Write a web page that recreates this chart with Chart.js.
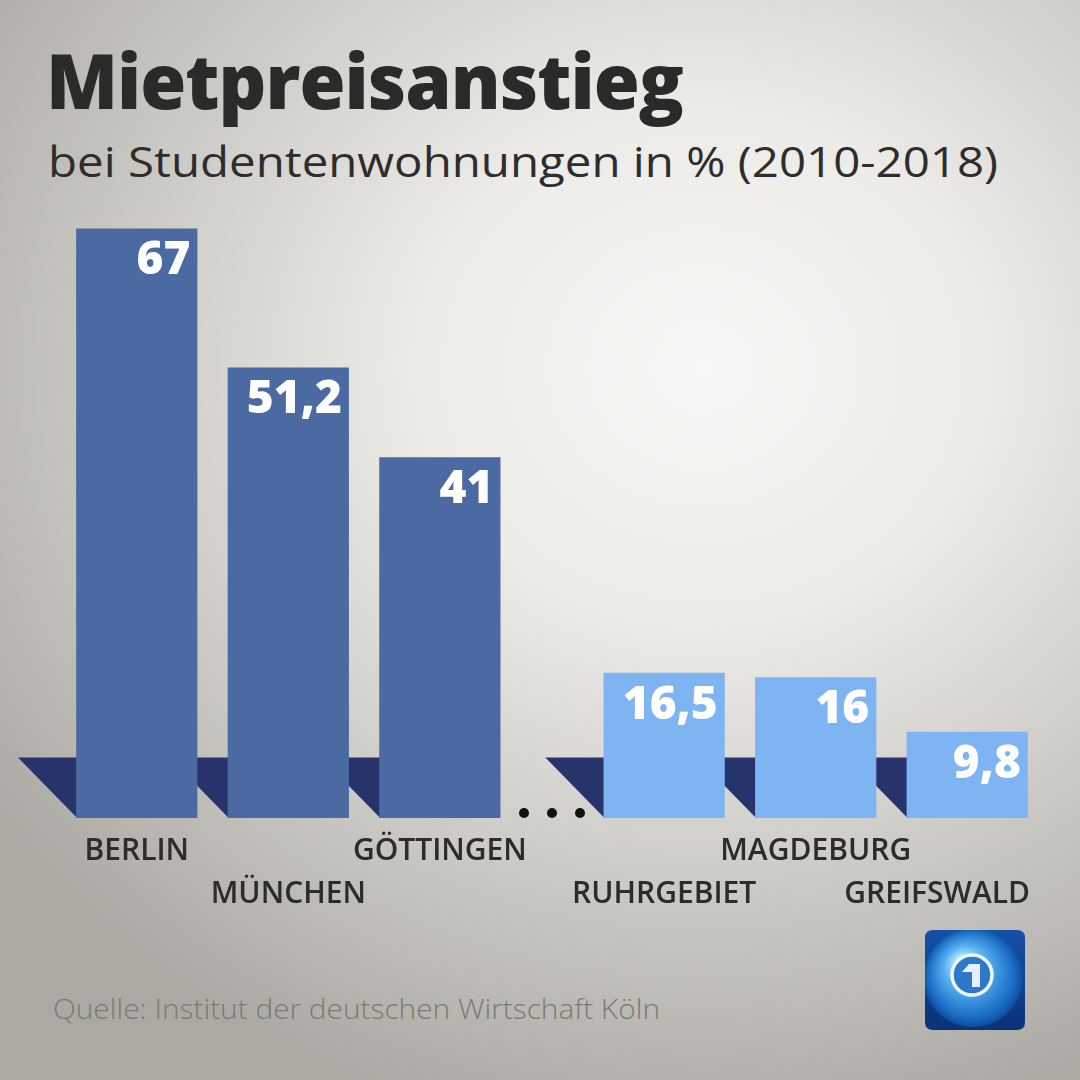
<!DOCTYPE html>
<html lang="de">
<head>
<meta charset="utf-8">
<title>Mietpreisanstieg</title>
<script src="https://cdn.jsdelivr.net/npm/chart.js@4.4.1/dist/chart.umd.min.js"></script>
<style>
  html, body { margin: 0; padding: 0; }
  body {
    width: 1080px; height: 1080px; overflow: hidden; position: relative;
    background: radial-gradient(ellipse 80% 72% at 65% 34%, #f7f7f5 0%, #ecebe8 33%, #c9c7c2 70%, #aca9a3 100%);
    font-family: 'Open Sans', 'Noto Sans', sans-serif;
  }
  .txt { position: absolute; white-space: nowrap; line-height: 1; transform-origin: 0 0; }
  #title { left: 46px; top: 42px; font-size: 76px; font-weight: 800; color: #2b2a29; letter-spacing: -1px; }
  #subtitle { left: 48px; top: 140px; font-size: 42px; font-weight: 500; color: #2e2d2c; }
  #source { left: 53px; top: 995px; font-size: 27px; font-weight: 300; color: #7b7975; }
  #wrap { position: absolute; left: 0; top: 0; width: 1080px; height: 1080px; }
</style>
</head>
<body>
<div id="title" class="txt">Mietpreisanstieg</div>
<div id="subtitle" class="txt">bei Studentenwohnungen in % (2010-2018)</div>
<div id="source" class="txt">Quelle: Institut der deutschen Wirtschaft Köln</div>
<div id="wrap"><canvas id="myChart" width="1080" height="1080"></canvas></div>

<script>
'use strict';

// ******* Data *******
const topCities = ['BERLIN', 'MÜNCHEN', 'GÖTTINGEN'];
const topValues = [67, 51.2, 41];

const lowCities = ['RUHRGEBIET', 'MAGDEBURG', 'GREIFSWALD'];
const lowValues = [16.5, 16, 9.8];

// ******* Look *******
const darkBlue = '#4a6aa1';
const lightBlue = '#7eb4f1';
const floorBlue = '#27346b';
const labelColor = '#2d2c2b';
const groupGap = 0.48;   // extra room for the dots between the two groups
const yMax = 70;

// fit the headline texts to the width they take in the original
function fitWidth(id, target){
  let el = document.getElementById(id);
  let w = el.getBoundingClientRect().width;
  el.style.transform = 'scaleX(' + (target / w) + ')';
}
fitWidth('title', 637);
fitWidth('subtitle', 950);
fitWidth('source', 607);

// ******* Build data for the chart *******
let allCities = topCities.concat(lowCities);
let points = [];
let colors = [];
for(let i = 0; i < topValues.length; i++){
  points.push({x: i, y: topValues[i]});
  colors.push(darkBlue);
}
for(let i = 0; i < lowValues.length; i++){
  points.push({x: topValues.length + groupGap + i, y: lowValues[i]});
  colors.push(lightBlue);
}
let xMax = topValues.length + groupGap + lowValues.length - 0.5;

function formatValue(v){
  return String(v).replace('.', ',');
}

// ******* Plugins *******
const floorPlugin = {
  id: 'floor',
  beforeDatasetsDraw(chart){
    let ctx = chart.ctx;
    let bars = chart.getDatasetMeta(0).data;
    ctx.save();
    ctx.fillStyle = floorBlue;
    bars.forEach(bar => {
      let left = bar.x - bar.width / 2;
      let h = bar.width * 0.5;
      let w = bar.width * 0.48;
      ctx.beginPath();
      ctx.moveTo(left - w, bar.base - h);
      ctx.lineTo(left + 1, bar.base - h);
      ctx.lineTo(left + 1, bar.base);
      ctx.closePath();
      ctx.fill();
    });
    ctx.restore();
  }
};

const labelPlugin = {
  id: 'labels',
  afterDatasetsDraw(chart){
    let ctx = chart.ctx;
    let bars = chart.getDatasetMeta(0).data;
    let values = chart.data.datasets[0].data;
    ctx.save();

    // values inside the bars
    ctx.fillStyle = '#ffffff';
    ctx.font = '800 46px "Open Sans", "Noto Sans", sans-serif';
    ctx.textAlign = 'right';
    ctx.textBaseline = 'alphabetic';
    bars.forEach((bar, i) => {
      ctx.fillText(formatValue(values[i].y), bar.x + bar.width / 2 - 7, bar.y + 46);
    });

    // city names, staggered in two rows
    ctx.fillStyle = labelColor;
    ctx.font = '600 30px "Open Sans", "Noto Sans", sans-serif';
    ctx.textAlign = 'left';
    bars.forEach((bar, i) => {
      let name = allCities[i];
      let tw = ctx.measureText(name).width;
      let x = bar.x - tw / 2;
      if(x + tw > chart.width - 50){
        x = chart.width - 50 - tw;
      }
      let y = bar.base + (i % 2 === 0 ? 42 : 85);
      ctx.fillText(name, x, y);
    });

    // the dots between both groups
    let xs = chart.scales.x;
    let mid = xs.getPixelForValue(topValues.length - 1 + (1 + groupGap) / 2);
    let base = bars[0].base;
    ctx.fillStyle = '#111111';
    for(let k = -1; k <= 1; k++){
      ctx.beginPath();
      ctx.arc(mid + k * 28, base - 5, 5, 0, Math.PI * 2);
      ctx.fill();
    }
    ctx.restore();
  }
};

function roundRectPath(ctx, x, y, w, h, r){
  ctx.beginPath();
  ctx.moveTo(x + r, y);
  ctx.lineTo(x + w - r, y);
  ctx.quadraticCurveTo(x + w, y, x + w, y + r);
  ctx.lineTo(x + w, y + h - r);
  ctx.quadraticCurveTo(x + w, y + h, x + w - r, y + h);
  ctx.lineTo(x + r, y + h);
  ctx.quadraticCurveTo(x, y + h, x, y + h - r);
  ctx.lineTo(x, y + r);
  ctx.quadraticCurveTo(x, y, x + r, y);
  ctx.closePath();
}

const logoPlugin = {
  id: 'logo',
  afterDraw(chart){
    let ctx = chart.ctx;
    let x = 925, y = 930, s = 100;
    ctx.save();
    roundRectPath(ctx, x, y, s, s, 8);
    let g = ctx.createLinearGradient(x, y, x, y + s);
    g.addColorStop(0, '#1550a8');
    g.addColorStop(1, '#0a3277');
    ctx.fillStyle = g;
    ctx.fill();
    ctx.clip();

    let cx = x + s * 0.48, cy = y + s * 0.47;
    let rg = ctx.createRadialGradient(cx - 12, cy - 16, 3, cx, cy, 50);
    rg.addColorStop(0, '#bdeeff');
    rg.addColorStop(0.4, '#55b0f0');
    rg.addColorStop(0.85, '#1a6cc4');
    rg.addColorStop(1, '#0f4c9c');
    ctx.fillStyle = rg;
    ctx.beginPath();
    ctx.arc(cx, cy, 50, 0, Math.PI * 2);
    ctx.fill();

    let rx = 972, ry = 975;
    ctx.fillStyle = '#2d78c8';
    ctx.beginPath();
    ctx.arc(rx, ry, 20, 0, Math.PI * 2);
    ctx.fill();
    ctx.strokeStyle = '#eef6ff';
    ctx.lineWidth = 3.5;
    ctx.stroke();

    ctx.fillStyle = '#e6f0fa';
    ctx.beginPath();
    ctx.moveTo(rx - 10, ry - 3);
    ctx.lineTo(rx - 3, ry - 11);
    ctx.lineTo(rx + 8, ry - 11);
    ctx.lineTo(rx + 8, ry + 12);
    ctx.lineTo(rx, ry + 12);
    ctx.lineTo(rx, ry - 3);
    ctx.closePath();
    ctx.fill();
    ctx.restore();
  }
};

// ******* Chart *******
const ctx = document.getElementById('myChart').getContext('2d');

let myChartObj = {
  type: 'bar',
  data: {
    datasets: [{
      label: 'Mietpreisanstieg in %',
      data: points,
      backgroundColor: colors,
      borderWidth: 0,
      categoryPercentage: 1,
      barPercentage: 0.8
    }]
  },
  options: {
    responsive: false,
    animation: false,
    layout: {
      padding: { left: 61, right: 37, top: 818 - yMax * 8.8, bottom: 262 }
    },
    scales: {
      x: {
        type: 'linear', min: -0.5, max: xMax, offset: false, display: false,
        // one tick per bar, so the bar width follows the bar spacing
        afterBuildTicks(scale){
          scale.ticks = points.map(p => ({value: p.x}));
        }
      },
      y: { min: 0, max: yMax, display: false }
    },
    plugins: {
      legend: { display: false },
      tooltip: { enabled: false }
    }
  },
  plugins: [floorPlugin, labelPlugin, logoPlugin]
};

const myChart = new Chart(ctx, myChartObj);
</script>
</body>
</html>
